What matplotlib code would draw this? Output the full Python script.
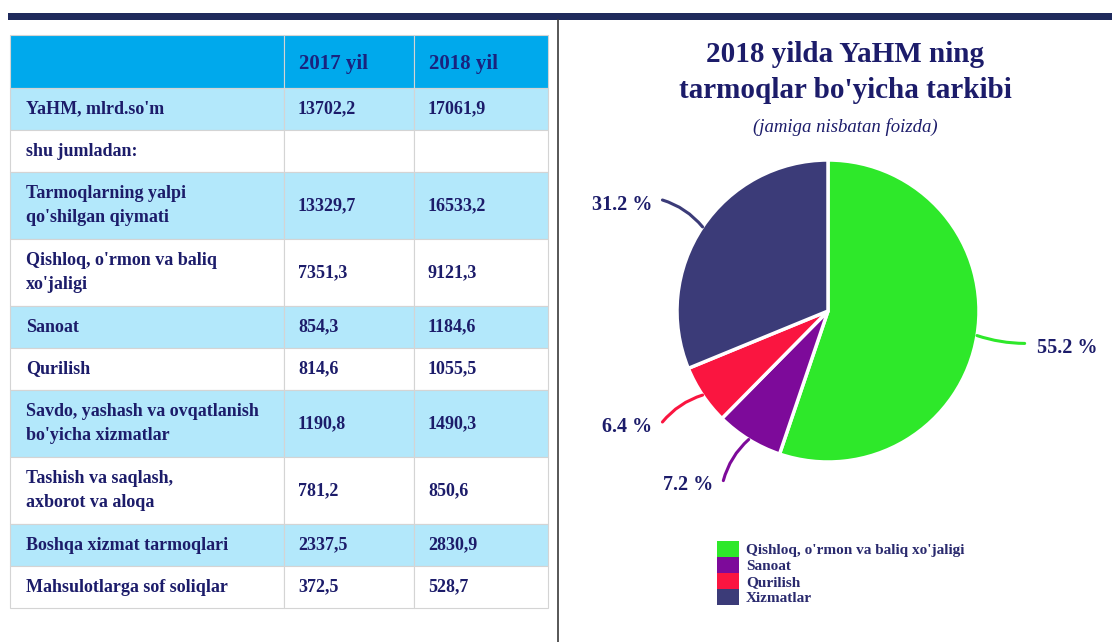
import numpy as np
import matplotlib.pyplot as plt
from matplotlib.patches import Rectangle, Patch

# table data
col_headers = ["", "2017 yil", "2018 yil"]
row_labels = [
    "YaHM, mlrd.so'm",
    "shu jumladan:",
    "Tarmoqlarning yalpi\nqo'shilgan qiymati",
    "Qishloq, o'rmon va baliq\nxo'jaligi",
    "Sanoat",
    "Qurilish",
    "Savdo, yashash va ovqatlanish\nbo'yicha xizmatlar",
    "Tashish va saqlash,\naxborot va aloqa",
    "Boshqa xizmat tarmoqlari",
    "Mahsulotlarga sof soliqlar",
]
vals_2017 = ["13702,2", "", "13329,7", "7351,3", "854,3", "814,6",
             "1190,8", "781,2", "2337,5", "372,5"]
vals_2018 = ["17061,9", "", "16533,2", "9121,3", "1184,6", "1055,5",
             "1490,3", "850,6", "2830,9", "528,7"]

# pie data
sectors = ["Qishloq, o'rmon va baliq xo'jaligi", "Sanoat", "Qurilish", "Xizmatlar"]
shares = [55.2, 7.2, 6.4, 31.2]
colors = ["#2ee82a", "#7d0a9a", "#fa1540", "#3b3b78"]

navy = "#1c1c6a"
plt.rcParams["font.family"] = ["Liberation Serif", "DejaVu Serif"]
plt.rcParams["font.weight"] = "bold"

fig = plt.figure(figsize=(11.12, 6.42), dpi=100)
bg = fig.add_axes([0, 0, 1, 1])
bg.set_xlim(0, 1112)
bg.set_ylim(642, 0)
bg.axis("off")

# top bar and divider
bg.add_patch(Rectangle((8, 13), 1104, 7, color="#1f2a5c", lw=0))
bg.plot([558, 558], [20, 642], color="#3a3a3a", lw=1.2)

# table
col_x = [10, 284, 414, 548]
header_h = 53
y = 35
for j in range(3):
    bg.add_patch(Rectangle((col_x[j], y), col_x[j + 1] - col_x[j], header_h,
                           facecolor="#00a9ec", edgecolor="#d4d4d4", lw=0.8))
    if col_headers[j]:
        bg.text(col_x[j] + 15, y + header_h / 2 + 3, col_headers[j], fontsize=15,
                color="#1a237e", va="center", ha="left")
y += header_h
for i, lab in enumerate(row_labels):
    nlines = lab.count("\n") + 1
    h = 42 if nlines == 1 else 67
    fc = "#b3e8fb" if i % 2 == 0 else "white"
    cells = [lab, vals_2017[i], vals_2018[i]]
    for j in range(3):
        bg.add_patch(Rectangle((col_x[j], y), col_x[j + 1] - col_x[j], h,
                               facecolor=fc, edgecolor="#d4d4d4", lw=0.8))
        bg.text(col_x[j] + (16 if j == 0 else 14), y + h / 2, cells[j],
                fontsize=13, color=navy, va="center", ha="left",
                linespacing=1.55)
    y += h

# title
fig.text(845 / 1112, 1 - 54 / 642, "2018 yilda YaHM ning", fontsize=21,
         color=navy, ha="center", va="center")
fig.text(845 / 1112, 1 - 91 / 642, "tarmoqlar bo'yicha tarkibi", fontsize=21,
         color=navy, ha="center", va="center")
fig.text(845 / 1112, 1 - 127 / 642, "(jamiga nisbatan foizda)", fontsize=13.5,
         color=navy, ha="center", va="center", style="italic", weight="normal")

# pie
R = 151
cx, cy = 828, 311
L = 1.75
w = 2 * L * R
ax = fig.add_axes([(cx - w / 2) / 1112, (642 - cy - w / 2) / 642, w / 1112, w / 642])
wedges, _ = ax.pie(shares, colors=colors, startangle=90, counterclock=False,
                   wedgeprops=dict(edgecolor="white", linewidth=2.5))
ax.set_xlim(-L, L)
ax.set_ylim(-L, L)
ax.set_aspect("equal")
ax.axis("off")

for wdg, val, c in zip(wedges, shares, colors):
    ang = np.deg2rad((wdg.theta1 + wdg.theta2) / 2)
    x0, y0 = np.cos(ang), np.sin(ang)
    x1, y1 = 1.32 * x0, 1.32 * y0
    rad = -0.08 if x0 > 0 else -0.15
    ax.annotate("", xy=(x0, y0), xytext=(x1, y1), annotation_clip=False,
                arrowprops=dict(arrowstyle="-", color=c, lw=2.2,
                                connectionstyle=f"arc3,rad={rad}",
                                shrinkA=0, shrinkB=0))
    if x0 > 0:
        ax.text(x1 + 0.08, y1 - 0.03, f"{val} %", ha="left", va="center",
                fontsize=14.5, color=navy)
    else:
        ax.text(x1 - 0.07, y1 - 0.03, f"{val} %", ha="right", va="center",
                fontsize=14.5, color=navy)

handles = [Patch(facecolor=c, edgecolor="none") for c in colors]
fig.legend(handles, sectors, loc="upper left",
           bbox_to_anchor=(717 / 1112, 1 - 541 / 642), frameon=False,
           fontsize=11, labelcolor="#2a2a6e", handlelength=1.45,
           handleheight=1.22, handletextpad=0.45, labelspacing=0.0,
           borderpad=0, borderaxespad=0)

fig.savefig("out.png", dpi=100)
